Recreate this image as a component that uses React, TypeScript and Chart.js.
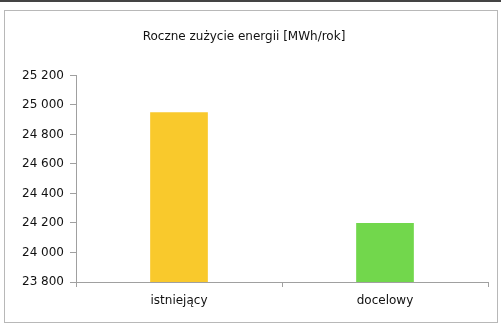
import React, { useEffect, useRef } from "react";
import { Chart, registerables } from "chart.js";

Chart.register(...registerables);

const categories = ["istniejący", "docelowy"];
const values = [24950, 24200];
const barColors = ["#F9C92C", "#72D74C"];
const yMin = 23800;
const yMax = 25200;
const yStep = 200;
const title = "Roczne zużycie energii [MWh/rok]";

const fmt = (v: number) => String(v).replace(/\B(?=(\d{3})+(?!\d))/g, " ");

export default function App() {
  const ref = useRef<HTMLCanvasElement | null>(null);
  useEffect(() => {
    document.body.style.margin = "0";
    const ctx = ref.current!;
    const chart = new Chart(ctx, {
      type: "bar",
      data: {
        labels: categories,
        datasets: [
          {
            data: values,
            backgroundColor: barColors,
            borderWidth: 0,
            barPercentage: 0.28,
            categoryPercentage: 1,
          },
        ],
      },
      options: {
        animation: false,
        responsive: false,
        maintainAspectRatio: false,
        layout: { padding: { left: 0, right: 13, top: 0, bottom: 0 } },
        plugins: {
          legend: { display: false },
          tooltip: { enabled: false },
          title: {
            display: true,
            text: title,
            color: "#111",
            font: { family: "DejaVu Sans", size: 12, weight: "normal" },
            padding: { top: 30, bottom: 31 },
          },
        },
        scales: {
          x: {
            grid: {
              display: true,
              drawOnChartArea: false,
              drawTicks: true,
              tickLength: 5,
              color: "#a0a0a0",
              offset: true,
            },
            border: { display: true, color: "#a0a0a0" },
            ticks: {
              color: "#111",
              font: { family: "DejaVu Sans", size: 12 },
              padding: 7,
            },
            afterFit: (s: any) => {
              s.height = 44;
            },
          },
          y: {
            min: yMin,
            max: yMax,
            grid: {
              display: true,
              drawOnChartArea: false,
              drawTicks: true,
              tickLength: 6,
              color: "#a0a0a0",
            },
            border: { display: true, color: "#a0a0a0" },
            ticks: {
              stepSize: yStep,
              color: "#111",
              font: { family: "DejaVu Sans", size: 12 },
              padding: 6,
              callback: (v: any) => fmt(Number(v)),
            },
            afterFit: (s: any) => {
              s.width = 76;
            },
          },
        },
      },
    });
    return () => chart.destroy();
  }, []);
  return (
    <div style={{ position: "relative", width: 501, height: 326, background: "#fff" }}>
      <div style={{ position: "absolute", left: 0, top: 0, width: 501, height: 2, background: "#444" }} />
      <div
        style={{
          position: "absolute",
          left: 4,
          top: 10,
          width: 492,
          height: 311,
          border: "1px solid #b8b8b8",
        }}
      />
      <canvas ref={ref} width={501} height={326} style={{ position: "absolute", left: 0, top: 0 }} />
    </div>
  );
}
